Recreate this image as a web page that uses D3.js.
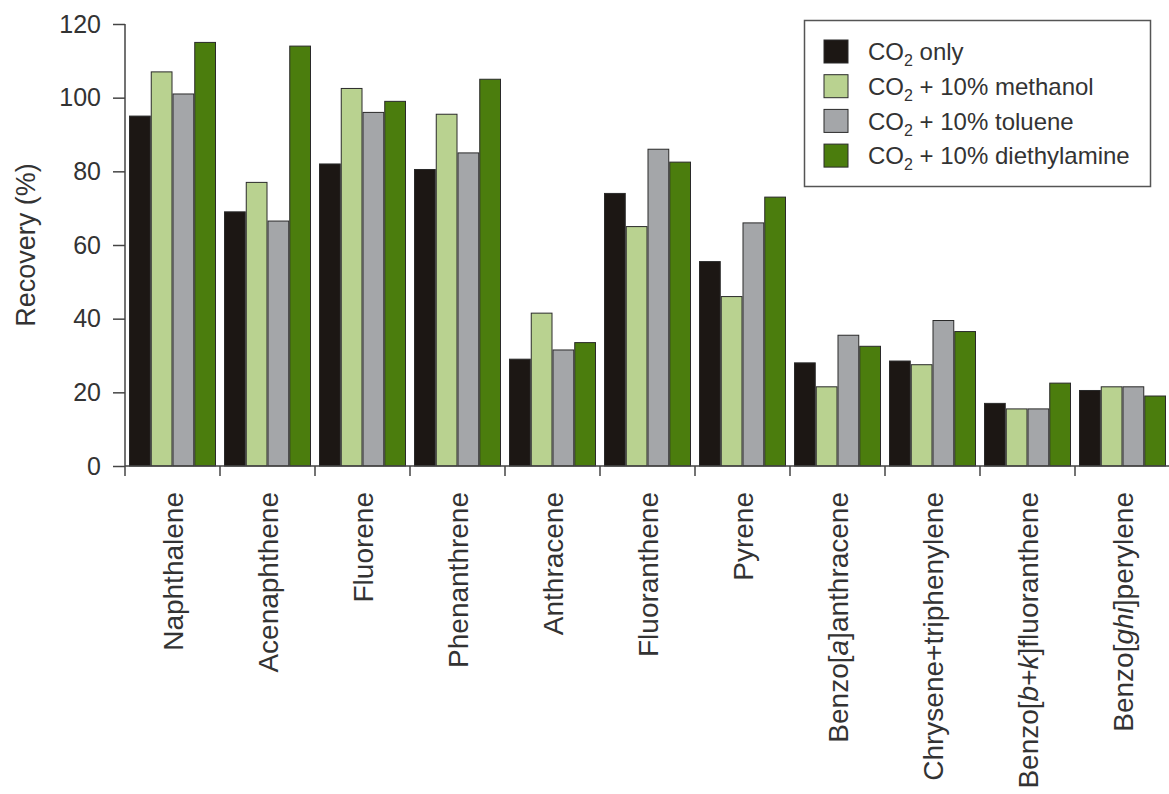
<!DOCTYPE html>
<html>
<head>
<meta charset="utf-8">
<script src="https://cdn.jsdelivr.net/npm/d3@7"></script>
<style>
  html, body { margin: 0; padding: 0; background: #fff; }
  svg { display: block; font-family: "Liberation Sans", Arial, Helvetica, sans-serif; }
</style>
</head>
<body>
<svg id="chart" width="1169" height="794"></svg>
<script>
// PAH recovery by supercritical fluid extraction, four modifier conditions
const categories = [
  "Naphthalene", "Acenaphthene", "Fluorene", "Phenanthrene", "Anthracene",
  "Fluoranthene", "Pyrene", "Benzo[a]anthracene", "Chrysene+triphenylene",
  "Benzo[b+k]fluoranthene", "Benzo[ghi]perylene"
];
const seriesKeys = ["co2", "methanol", "toluene", "diethylamine"];
const co2Only      = [95, 69, 82, 80.5, 29, 74, 55.5, 28, 28.5, 17, 20.5];
const co2Methanol  = [107, 77, 102.5, 95.5, 41.5, 65, 46, 21.5, 27.5, 15.5, 21.5];
const co2Toluene   = [101, 66.5, 96, 85, 31.5, 86, 66, 35.5, 39.5, 15.5, 21.5];
const co2Diethyl   = [115, 114, 99, 105, 33.5, 82.5, 73, 32.5, 36.5, 22.5, 19];
const yTicks = [0, 20, 40, 60, 80, 100, 120];
const legendLabels = [
  ["CO", "2", " only"],
  ["CO", "2", " + 10% methanol"],
  ["CO", "2", " + 10% toluene"],
  ["CO", "2", " + 10% diethylamine"]
];

const seriesValues = [co2Only, co2Methanol, co2Toluene, co2Diethyl];
const fills = ["#1c1714", "#b9d290", "#a4a6a9", "#4b7d0d"];

const svg = d3.select("#chart");
const plotLeft = 125, plotRight = 1170, plotTop = 24, plotBottom = 466;

const x0 = d3.scaleBand().domain(categories).range([plotLeft, plotRight]).padding(0);
const x1 = d3.scaleBand().domain(seriesKeys).range([4, x0.bandwidth() - 4]).padding(0);
const y = d3.scaleLinear().domain([0, 120]).range([plotBottom, plotTop]);

const rows = categories.map((c, i) => ({
  name: c,
  values: seriesKeys.map((k, j) => ({ key: k, value: seriesValues[j][i], fill: fills[j] }))
}));

// bars
const groups = svg.append("g").selectAll("g").data(rows).join("g")
  .attr("transform", d => `translate(${x0(d.name)},0)`);
groups.selectAll("rect").data(d => d.values).join("rect")
  .attr("x", d => x1(d.key) + 0.5)
  .attr("width", x1.bandwidth() - 1)
  .attr("y", d => y(d.value))
  .attr("height", d => y(0) - y(d.value))
  .attr("fill", d => d.fill)
  .attr("stroke", "#2a2a2a")
  .attr("stroke-width", 1);

// y axis
const yAxis = svg.append("g")
  .attr("transform", `translate(${plotLeft},0)`)
  .call(d3.axisLeft(y).tickValues(yTicks).tickSize(12).tickPadding(12));
yAxis.select(".domain").attr("stroke", "#444").attr("stroke-width", 1.5)
  .attr("d", `M0,${plotBottom + 10}V${plotTop}`);
yAxis.selectAll(".tick line").attr("stroke", "#444").attr("stroke-width", 1.5);
yAxis.selectAll(".tick text")
  .attr("font-size", 25).attr("fill", "#333")
  .attr("font-family", "'Liberation Sans', Arial, sans-serif");

// x axis: baseline with ticks at group boundaries
const boundaries = categories.map(c => x0(c));
const xAxis = svg.append("g");
xAxis.append("line")
  .attr("x1", plotLeft).attr("x2", plotRight)
  .attr("y1", plotBottom).attr("y2", plotBottom)
  .attr("stroke", "#444").attr("stroke-width", 1.5);
xAxis.selectAll("line.tick").data(boundaries.slice(1)).join("line")
  .attr("class", "tick")
  .attr("x1", d => d).attr("x2", d => d)
  .attr("y1", plotBottom).attr("y2", plotBottom + 10)
  .attr("stroke", "#444").attr("stroke-width", 1.5);

// category labels, rotated; letters inside brackets set in italics
const labels = xAxis.selectAll("text").data(categories).join("text")
  .attr("transform", d => `translate(${x0(d) + x0.bandwidth() / 2},${plotBottom + 26}) rotate(-90)`)
  .attr("text-anchor", "end")
  .attr("dy", "0.36em")
  .attr("font-size", 28)
  .attr("fill", "#333");
labels.each(function(d) {
  const t = d3.select(this);
  const m = d.match(/^(.*\[)(.*)(\].*)$/);
  if (!m) { t.text(d); return; }
  t.append("tspan").text(m[1]);
  m[2].split(/(\+)/).forEach(part => {
    const s = t.append("tspan").text(part);
    if (part !== "+") s.attr("font-style", "italic");
  });
  t.append("tspan").text(m[3]);
});

// y axis title
svg.append("text")
  .attr("transform", `translate(25,${(plotTop + plotBottom) / 2}) rotate(-90)`)
  .attr("text-anchor", "middle")
  .attr("dy", "0.36em")
  .attr("font-size", 27)
  .attr("fill", "#333")
  .text("Recovery (%)");

// legend
const legend = svg.append("g");
legend.append("rect")
  .attr("x", 804.5).attr("y", 20.5).attr("width", 346).attr("height", 166)
  .attr("fill", "#fff").attr("stroke", "#555").attr("stroke-width", 1.5);
const items = legend.selectAll("g.item").data(seriesKeys).join("g")
  .attr("class", "item")
  .attr("transform", (d, i) => `translate(824,${40 + i * 34.7})`);
items.append("rect")
  .attr("width", 24).attr("height", 23)
  .attr("fill", (d, i) => fills[i])
  .attr("stroke", "#2a2a2a").attr("stroke-width", 1);
const lt = items.append("text")
  .attr("x", 44).attr("y", 11.5).attr("dy", "0.36em")
  .attr("font-size", 24).attr("fill", "#333");
lt.each(function(d, i) {
  const t = d3.select(this);
  const parts = legendLabels[i];
  t.append("tspan").text(parts[0]);
  t.append("tspan").attr("font-size", 16).attr("dy", 6).text(parts[1]);
  t.append("tspan").attr("dy", -6).text(parts[2]);
});
</script>
</body>
</html>
